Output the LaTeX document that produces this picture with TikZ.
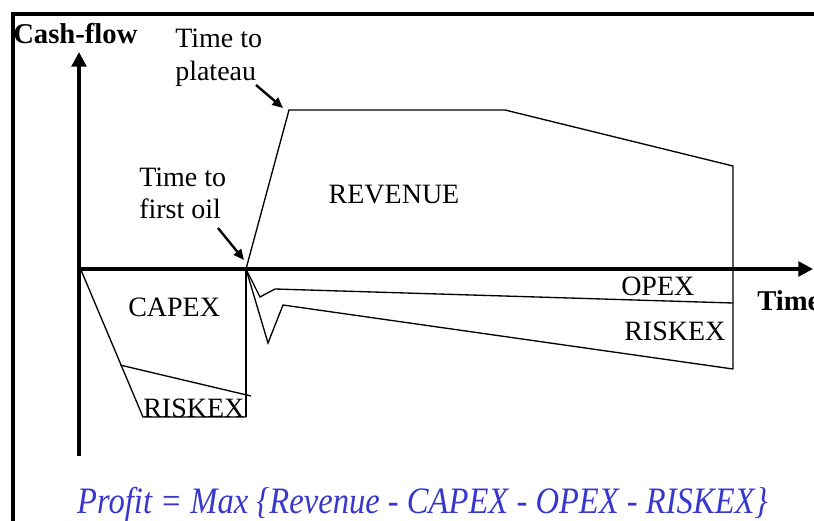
\documentclass[tikz,border=0pt]{standalone}
\usepackage{fontspec}
\setmainfont{Liberation Serif}
\usetikzlibrary{arrows.meta}
\definecolor{formulablue}{RGB}{55,55,205}
\begin{document}
\begin{tikzpicture}[x=0.75pt,y=-0.75pt,
  lbl/.style={inner sep=0pt, anchor=base west, font=\fontsize{21}{25}\selectfont},
  boldlbl/.style={lbl, font=\fontsize{21.5}{25}\selectfont\bfseries},
  curve/.style={line width=1pt, line join=miter},
  axis/.style={line width=2.6pt, -{Triangle[length=11pt,width=11pt]}},
  pointer/.style={line width=1.8pt, -{Triangle[length=8pt,width=7pt]}}]
\useasboundingbox (0,0) rectangle (814,521);

% outer frame (top and left edges)
\draw[line width=3pt] (13,540) -- (13,14) -- (830,14);

% axes
\coordinate (O) at (79,269);
\coordinate (ytop) at (79,52);
\coordinate (ybot) at (79,456);
\coordinate (xend) at (813,269);
\draw[axis] (ybot) -- (ytop);
\draw[axis] (O) -- (xend);

% key points of the cash-flow profile
\coordinate (fo) at (246,269);   % first oil
\coordinate (pl) at (289,110);   % start of plateau
\coordinate (pe) at (505,110);   % end of plateau
\coordinate (rv) at (733,166);   % end of revenue
\coordinate (rb) at (733,369);   % end of riskex
\coordinate (ob) at (733,303);   % end of opex
\coordinate (cb) at (246,417);   % capex bottom right
\coordinate (cs) at (81,270);    % capex start
\coordinate (cl) at (143,417);   % capex bottom left
\coordinate (rs) at (120,365);   % capex riskex split
\coordinate (re) at (251,396);

% revenue
\draw[curve] (fo) -- (pl) -- (pe) -- (rv) -- (rb);
% opex
\draw[curve] (fo) -- (260,297) -- (275,289) -- (ob);
% riskex during production
\draw[curve] (fo) -- (268,343) -- (283,305) -- (rb);
% capex
\draw[curve] (fo) -- (cb);
\draw[curve] (cs) -- (cl) -- (cb);
\draw[curve] (rs) -- (re);

% labels
\node[boldlbl] (cf) at (13,43) {Cash-flow};
\node[boldlbl] (tm) at (757,310) {Time};
\node[lbl] (tp1) at (175,47) {Time to};
\node[lbl] (tp2) at (175,80) {plateau};
\node[lbl] (fo1) at (139,186) {Time to};
\node[lbl] (fo2) at (139,218) {first oil};
\node[lbl, anchor=base] (rev) at (394,203) {REVENUE};
\node[lbl] (cap) at (128,316) {CAPEX};
\node[lbl] (rk1) at (143,417) {RISKEX};
\node[lbl] (opx) at (621,295) {OPEX};
\node[lbl] (rk2) at (624,340) {RISKEX};

% pointers
\coordinate (pa) at (256,85);
\coordinate (oa) at (218,228);
\draw[pointer] (pa) -- (283,108);
\draw[pointer] (oa) -- (244,260);

% objective
\node[inner sep=0pt, anchor=base west, xscale=0.873, text=formulablue,
      font=\fontsize{28}{32}\selectfont\itshape] (obj) at (77,513)
  {Profit = Max \{Revenue - CAPEX - OPEX - RISKEX\}};
\end{tikzpicture}
\end{document}
